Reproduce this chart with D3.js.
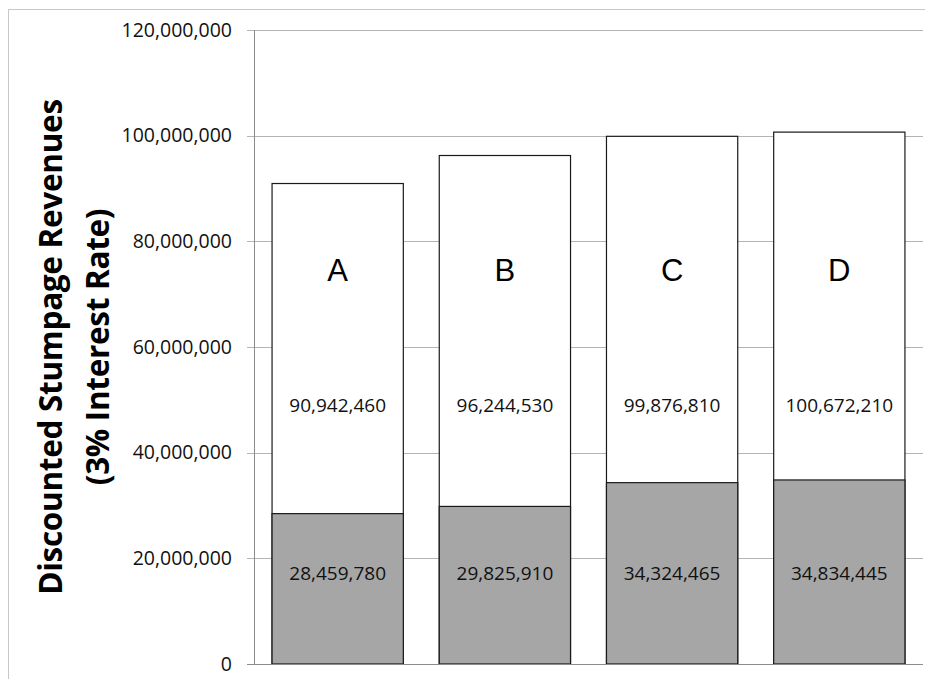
<!DOCTYPE html>
<html>
<head>
<meta charset="utf-8">
<script src="https://cdn.jsdelivr.net/npm/d3@7"></script>
<style>
  html, body { margin: 0; padding: 0; background: #fff; }
  svg { display: block; }
</style>
</head>
<body>
<svg id="chart" width="925" height="679"></svg>
<script>
// Scenario categories and their discounted stumpage revenues
const categories = ["A", "B", "C", "D"];
const totalRevenue = [90942460, 96244530, 99876810, 100672210];
const baseRevenue = [28459780, 29825910, 34324465, 34834445];
const yTicks = [0, 20000000, 40000000, 60000000, 80000000, 100000000, 120000000];
const titleLines = ["Discounted Stumpage Revenues", "(3% Interest Rate)"];

const svg = d3.select("#chart");
const W = 925, H = 679;
const plot = { left: 254, right: 923, top: 30, bottom: 664 };

// Outer chart frame
svg.append("rect")
  .attr("x", 8.5).attr("y", 9.5)
  .attr("width", W + 20).attr("height", H + 20)
  .attr("fill", "none").attr("stroke", "#c8c8c8").attr("stroke-width", 1);

const x = d3.scaleBand()
  .domain(categories)
  .range([plot.left, plot.right])
  .paddingInner(0.215)
  .paddingOuter(0.108);

const y = d3.scaleLinear()
  .domain([0, 120000000])
  .range([plot.bottom, plot.top]);

const fmt = d3.format(",");
const numFont = "'Open Sans', sans-serif";

// Horizontal gridlines with tick marks and labels
const yAxis = d3.axisLeft(y)
  .tickValues(yTicks)
  .tickFormat(fmt)
  .tickSize(-(plot.right - plot.left))
  .tickPadding(22);

const gy = svg.append("g")
  .attr("transform", `translate(${plot.left},0)`)
  .call(yAxis);
gy.select(".domain").remove();
gy.selectAll(".tick line")
  .attr("stroke", "#b4b4b4")
  .attr("stroke-width", 1)
  .attr("x1", -7)
  .attr("shape-rendering", "crispEdges");
gy.selectAll(".tick text")
  .attr("font-family", numFont)
  .attr("font-size", 19.5)
  .attr("fill", "#111");

// Vertical axis line
svg.append("line")
  .attr("x1", plot.left).attr("x2", plot.left)
  .attr("y1", plot.top).attr("y2", plot.bottom)
  .attr("stroke", "#8c8c8c").attr("stroke-width", 1)
  .attr("shape-rendering", "crispEdges");

const rows = categories.map((c, i) => ({ c, total: totalRevenue[i], base: baseRevenue[i] }));

// Total revenue bars (white, behind)
svg.append("g").selectAll("rect")
  .data(rows).join("rect")
  .attr("x", d => x(d.c))
  .attr("y", d => y(d.total))
  .attr("width", x.bandwidth())
  .attr("height", d => y(0) - y(d.total))
  .attr("fill", "#fff")
  .attr("stroke", "#1a1a1a")
  .attr("stroke-width", 1.2);

// Base revenue bars (gray, in front)
svg.append("g").selectAll("rect")
  .data(rows).join("rect")
  .attr("x", d => x(d.c))
  .attr("y", d => y(d.base))
  .attr("width", x.bandwidth())
  .attr("height", d => y(0) - y(d.base))
  .attr("fill", "#a6a6a6")
  .attr("stroke", "#1a1a1a")
  .attr("stroke-width", 1.2);

// Baseline
svg.append("line")
  .attr("x1", plot.left - 7).attr("x2", plot.right)
  .attr("y1", plot.bottom).attr("y2", plot.bottom)
  .attr("stroke", "#8c8c8c").attr("stroke-width", 1)
  .attr("shape-rendering", "crispEdges");

const labels = svg.append("g").attr("text-anchor", "middle");

// Category letters
labels.selectAll("text.cat")
  .data(rows).join("text")
  .attr("class", "cat")
  .attr("x", d => x(d.c) + x.bandwidth() / 2)
  .attr("y", y(74600000))
  .attr("dy", "0.35em")
  .attr("font-family", "'Liberation Sans', Arial, sans-serif")
  .attr("font-size", 31)
  .attr("fill", "#000")
  .text(d => d.c);

// Total value labels
labels.selectAll("text.tot")
  .data(rows).join("text")
  .attr("class", "tot")
  .attr("x", d => x(d.c) + x.bandwidth() / 2)
  .attr("y", y(49000000))
  .attr("dy", "0.35em")
  .attr("font-family", numFont)
  .attr("font-size", 19)
  .attr("fill", "#111")
  .text(d => fmt(d.total));

// Base value labels
labels.selectAll("text.base")
  .data(rows).join("text")
  .attr("class", "base")
  .attr("x", d => x(d.c) + x.bandwidth() / 2)
  .attr("y", y(17200000))
  .attr("dy", "0.35em")
  .attr("font-family", numFont)
  .attr("font-size", 19)
  .attr("fill", "#111")
  .text(d => fmt(d.base));

// Rotated two-line axis title
const title = svg.append("text")
  .attr("transform", "translate(51,347) rotate(-90)")
  .attr("text-anchor", "middle")
  .attr("font-family", "'Open Sans', sans-serif")
  .attr("font-weight", "bold")
  .attr("font-size", 31.5)
  .attr("letter-spacing", -0.3)
  .attr("fill", "#000");
title.selectAll("tspan")
  .data(titleLines).join("tspan")
  .attr("x", 0)
  .attr("y", (d, i) => i * 47)
  .attr("dy", "0.35em")
  .text(d => d);
</script>
</body>
</html>
